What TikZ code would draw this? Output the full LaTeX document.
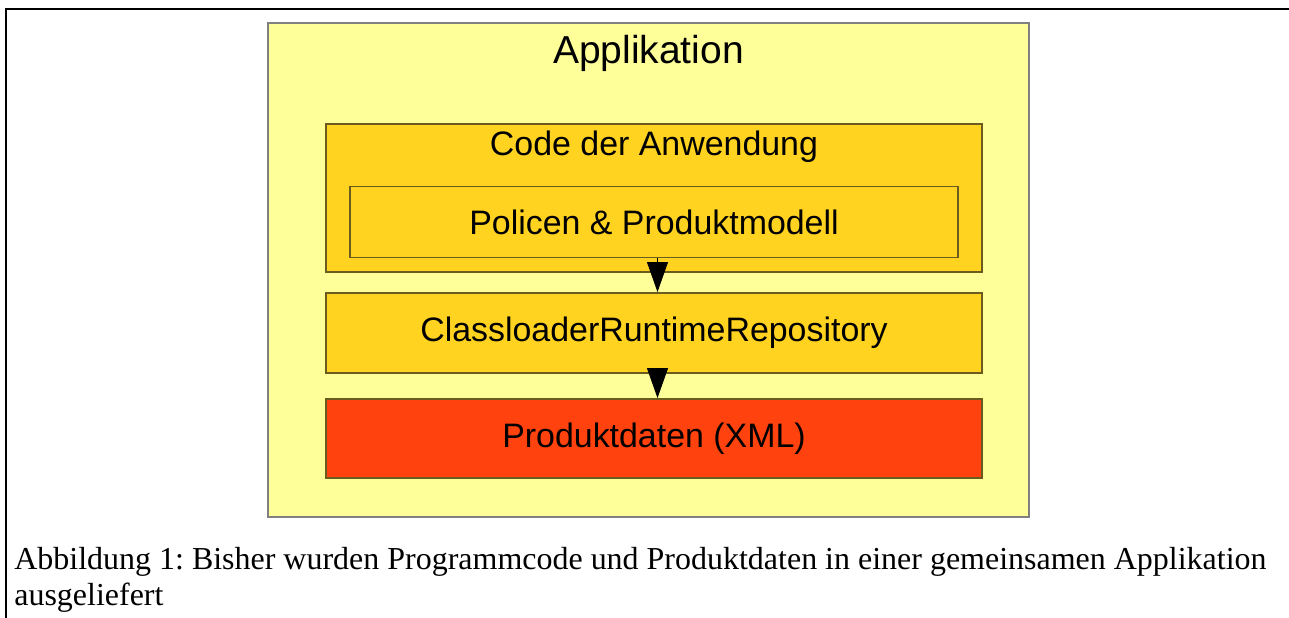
\documentclass[tikz,border=0pt]{standalone}
\usepackage{fontspec}
\setmainfont{Liberation Serif}
\setsansfont{Liberation Sans}
\usetikzlibrary{arrows.meta}

\definecolor{appYellow}{RGB}{255,255,153}
\definecolor{codeYellow}{RGB}{255,211,32}
\definecolor{dataRed}{RGB}{255,66,14}
\definecolor{boxLine}{RGB}{105,92,30}
\definecolor{appLine}{RGB}{128,128,128}
\frenchspacing

\begin{document}
\begin{tikzpicture}
        [x=0.02cm, y=-0.02cm,
        box/.style={rectangle, draw=boxLine, line width=1.1pt, fill=codeYellow, minimum width=13.11cm, font=\sffamily\fontsize{19.3}{22}\selectfont},
        label/.style={font=\sffamily\fontsize{19.3}{22}\selectfont},
        flow/.style={line width=0.6pt, -{Triangle[width=0.42cm, length=0.6cm]}}]
        \useasboundingbox (0,0) rectangle (1289,618);
        \draw[line width=0.6pt] (6,618) -- (6,9) -- (1289,9);

        \node[rectangle, draw=appLine, line width=1.1pt, fill=appYellow, minimum width=15.22cm, minimum height=9.88cm] (app) at (648.5,270) {};
        \node[font=\sffamily\fontsize{22.2}{25}\selectfont] (appT) at (648.5,53) {Applikation};

        \node[box, minimum height=2.96cm] (code) at (654,198) {};
        \node[label] (codeT) at (654,147) {Code der Anwendung};
        \node[box, minimum width=12.16cm, minimum height=1.42cm] (pol) at (654,222) {Policen \& Produktmodell};
        \node[box, minimum height=1.6cm] (crr) at (654,333) {ClassloaderRuntimeRepository};
        \node[box, fill=dataRed, minimum height=1.58cm] (xml) at (654,438.5) {Produktdaten (XML)};

        \draw[flow] ([xshift=0.07cm]pol.south) -- ([xshift=0.07cm]crr.north);
        \draw[flow] ([xshift=0.07cm]crr.south) -- ([xshift=0.07cm]xml.north);

        \node[anchor=north west, align=left, inner sep=0pt, font=\fontsize{18.2}{20.5}\selectfont] (cap) at (14,547)
            {Abbildung 1: Bisher wurden Programmcode und Produktdaten in einer gemeinsamen Applikation\\ausgeliefert};
    \end{tikzpicture}
\end{document}
